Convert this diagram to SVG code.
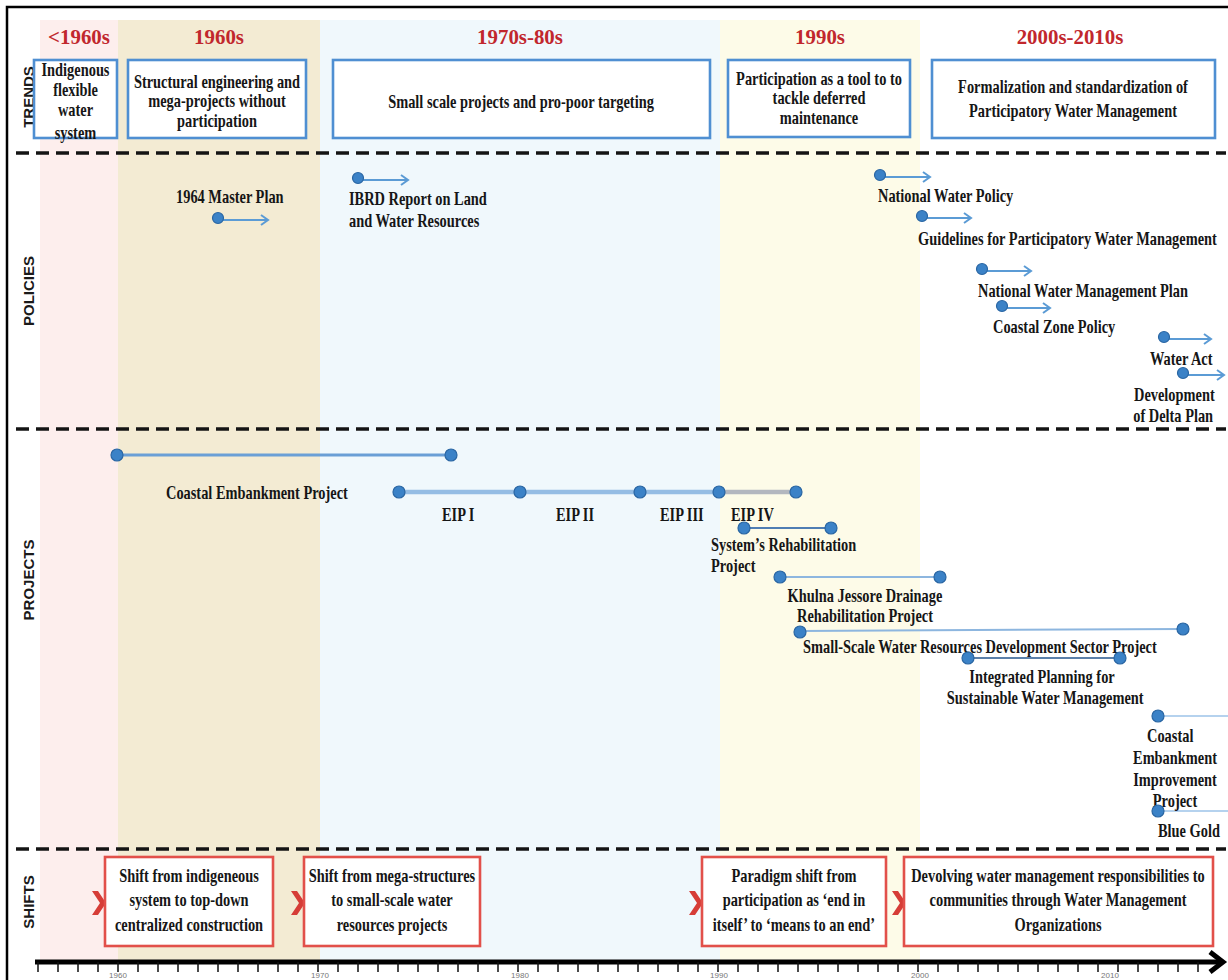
<svg xmlns="http://www.w3.org/2000/svg" width="1228" height="980" viewBox="0 0 1228 980">
  <defs>
    <style>
      .t { font-family: "Liberation Serif", "Times New Roman", serif; font-weight: bold; font-size: 18px; fill: #161616; }
      .m { text-anchor: middle; }
      .hd { font-family: "Liberation Serif", "Times New Roman", serif; font-weight: bold; font-size: 22px; fill: #c1272d; text-anchor: middle; }
      .lane { font-family: "Liberation Sans", Arial, sans-serif; font-weight: bold; font-size: 15px; fill: #1a1a1a; text-anchor: middle; }
      .yr { font-family: "Liberation Sans", Arial, sans-serif; font-size: 8px; fill: #777; text-anchor: middle; }
      .trend { fill: #fff; stroke: #4f8fd2; stroke-width: 2.6; }
      .shift { fill: #fff; stroke: #e2504a; stroke-width: 2.6; }
      .chev { fill: #d63d37; }
      .sep { stroke: #141414; stroke-width: 3.5; stroke-dasharray: 13 7; fill: none; }
      .pol { stroke: #5b9bd5; stroke-width: 2; marker-end: url(#ah); }
      .dot { fill: #3b82c7; stroke: #2a66a3; stroke-width: 1.2; }
      .span { stroke: #8db6df; stroke-width: 2; }
    </style>
    <marker id="ah" markerWidth="10" markerHeight="12" refX="8" refY="6" orient="auto" markerUnits="userSpaceOnUse">
      <path d="M1,1 L8,6 L1,11" fill="none" stroke="#5b9bd5" stroke-width="2"/>
    </marker>
  </defs>

  <rect width="1228" height="980" fill="#fff"/>

  <!-- era bands -->
  <g id="bands">
    <rect x="40" y="20" width="78" height="942" fill="#fdeeed"/>
    <rect x="118" y="20" width="202" height="942" fill="#f3ebd3"/>
    <rect x="320" y="20" width="400" height="942" fill="#f0f8fc"/>
    <rect x="720" y="20" width="200" height="942" fill="#fdfbe8"/>
  </g>

  <!-- outer frame -->
  <path d="M7 980 V7 H1228" fill="none" stroke="#000" stroke-width="2.5"/>

  <!-- era headings -->
  <g id="eras">
    <text class="hd" transform="translate(79 44) scale(.95 1)">&lt;1960s</text>
    <text class="hd" transform="translate(219 44) scale(.95 1)">1960s</text>
    <text class="hd" transform="translate(520 44) scale(.95 1)">1970s-80s</text>
    <text class="hd" transform="translate(820 44) scale(.95 1)">1990s</text>
    <text class="hd" transform="translate(1070 44) scale(.95 1)">2000s-2010s</text>
  </g>

  <!-- lane titles -->
  <g id="lanes">
    <text class="lane" transform="translate(34 97) rotate(-90)">TRENDS</text>
    <text class="lane" transform="translate(34 291) rotate(-90)">POLICIES</text>
    <text class="lane" transform="translate(34 580) rotate(-90)">PROJECTS</text>
    <text class="lane" transform="translate(34 902) rotate(-90)">SHIFTS</text>
  </g>

  <!-- lane separators -->
  <g id="separators">
    <line class="sep" x1="16" y1="153" x2="1226" y2="153"/>
    <line class="sep" x1="16" y1="429" x2="1226" y2="429"/>
    <line class="sep" x1="16" y1="849" x2="1226" y2="849"/>
  </g>

  <!-- trends -->
  <g id="trend-indigenous">
    <rect class="trend" x="34" y="60" width="83" height="78"/>
    <text class="t m" transform="translate(75.5 75.5) scale(.8 1)"><tspan x="0">Indigenous</tspan><tspan x="0" dy="21">flexible</tspan><tspan x="0" dy="20">water</tspan><tspan x="0" dy="23">system</tspan></text>
  </g>
  <g id="trend-structural">
    <rect class="trend" x="128" y="60" width="178" height="78"/>
    <text class="t m" transform="translate(217 87.5) scale(.8 1)"><tspan x="0">Structural engineering and</tspan><tspan x="0" dy="20">mega-projects without</tspan><tspan x="0" dy="20">participation</tspan></text>
  </g>
  <g id="trend-smallscale">
    <rect class="trend" x="333" y="60" width="377" height="78"/>
    <text class="t m" transform="translate(521 107.5) scale(.8 1)">Small scale projects and pro-poor targeting</text>
  </g>
  <g id="trend-participation">
    <rect class="trend" x="728" y="60" width="182" height="77"/>
    <text class="t m" transform="translate(819 84.5) scale(.8 1)"><tspan x="0">Participation as a tool to to</tspan><tspan x="0" dy="19.5">tackle deferred</tspan><tspan x="0" dy="20">maintenance</tspan></text>
  </g>
  <g id="trend-formalization">
    <rect class="trend" x="932" y="60" width="283" height="78"/>
    <text class="t m" transform="translate(1073 92.5) scale(.8 1)"><tspan x="0">Formalization and standardization of</tspan><tspan x="0" dy="25">Participatory Water Management</tspan></text>
  </g>

  <!-- connectors: policy arrows and project spans -->
  <g id="connectors">
    <line class="pol" x1="218" y1="220" x2="268" y2="220"/>
    <line class="pol" x1="358" y1="180" x2="408" y2="180"/>
    <line class="pol" x1="880" y1="177" x2="930" y2="177"/>
    <line class="pol" x1="922" y1="218" x2="971" y2="218"/>
    <line class="pol" x1="982" y1="271" x2="1031" y2="271"/>
    <line class="pol" x1="1002" y1="308" x2="1050" y2="308"/>
    <line class="pol" x1="1164" y1="339" x2="1211" y2="339"/>
    <line class="pol" x1="1183" y1="375" x2="1224" y2="375"/>

    <line x1="117" y1="455" x2="451" y2="455" stroke="#6a9fd6" stroke-width="3"/>
    <line x1="399" y1="492" x2="719" y2="492" stroke="#95bde4" stroke-width="4.5"/>
    <line x1="719" y1="492" x2="796" y2="492" stroke="#b3b7bf" stroke-width="4.5"/>
    <line x1="744" y1="528" x2="831" y2="528" stroke="#4f7db3" stroke-width="1.8"/>
    <line class="span" x1="780" y1="577" x2="940" y2="577"/>
    <line class="span" x1="800" y1="631" x2="1183" y2="629"/>
    <line x1="968" y1="658" x2="1120" y2="658" stroke="#5b80aa" stroke-width="2"/>
    <line x1="1157" y1="716" x2="1228" y2="716" stroke="#9cc3e8" stroke-width="1.5"/>
    <line x1="1157" y1="811" x2="1228" y2="811" stroke="#9cc3e8" stroke-width="1.5"/>
  </g>

  <!-- policies -->
  <g id="policy-master-plan">
    <circle class="dot" cx="218" cy="218" r="5.5"/>
    <text class="t" transform="translate(176 203) scale(.8 1)">1964 Master Plan</text>
  </g>
  <g id="policy-ibrd">
    <circle class="dot" cx="358" cy="178" r="5.5"/>
    <text class="t" transform="translate(349 205) scale(.8 1)"><tspan x="0">IBRD Report on Land</tspan><tspan x="0" dy="22">and Water Resources</tspan></text>
  </g>
  <g id="policy-nwp">
    <circle class="dot" cx="880" cy="175" r="5.5"/>
    <text class="t" transform="translate(878 202) scale(.8 1)">National Water Policy</text>
  </g>
  <g id="policy-guidelines">
    <circle class="dot" cx="922" cy="216" r="5.5"/>
    <text class="t" transform="translate(918 245) scale(.8 1)">Guidelines for Participatory Water Management</text>
  </g>
  <g id="policy-nwmp">
    <circle class="dot" cx="982" cy="269" r="5.5"/>
    <text class="t" transform="translate(978 297) scale(.8 1)">National Water Management Plan</text>
  </g>
  <g id="policy-coastal-zone">
    <circle class="dot" cx="1002" cy="306" r="5.5"/>
    <text class="t" transform="translate(993 333) scale(.8 1)">Coastal Zone Policy</text>
  </g>
  <g id="policy-water-act">
    <circle class="dot" cx="1164" cy="337" r="5.5"/>
    <text class="t" transform="translate(1150 365) scale(.8 1)">Water Act</text>
  </g>
  <g id="policy-delta-plan">
    <circle class="dot" cx="1183" cy="373" r="5.5"/>
    <text class="t" transform="translate(1134 401) scale(.8 1)"><tspan x="0">Development</tspan><tspan x="-1" dy="21">of Delta Plan</tspan></text>
  </g>

  <!-- projects -->
  <g id="project-cep">
    <circle class="dot" cx="117" cy="455" r="6"/>
    <circle class="dot" cx="451" cy="455" r="6"/>
    <text class="t" transform="translate(166 499) scale(.8 1)">Coastal Embankment Project</text>
  </g>
  <g id="project-eip">
    <circle class="dot" cx="399" cy="492" r="6"/>
    <circle class="dot" cx="520" cy="492" r="6"/>
    <circle class="dot" cx="640" cy="492" r="6"/>
    <circle class="dot" cx="719" cy="492" r="6"/>
    <circle class="dot" cx="796" cy="492" r="6"/>
    <text class="t" transform="translate(442 521) scale(.8 1)">EIP I</text>
    <text class="t" transform="translate(556 521) scale(.8 1)">EIP II</text>
    <text class="t" transform="translate(660 521) scale(.8 1)">EIP III</text>
    <text class="t" transform="translate(731 521) scale(.8 1)">EIP IV</text>
  </g>
  <g id="project-srp">
    <circle class="dot" cx="744" cy="528" r="6"/>
    <circle class="dot" cx="831" cy="528" r="6"/>
    <text class="t" transform="translate(711 551) scale(.8 1)"><tspan x="0">System’s Rehabilitation</tspan><tspan x="0" dy="21">Project</tspan></text>
  </g>
  <g id="project-khulna-jessore">
    <circle class="dot" cx="780" cy="577" r="6"/>
    <circle class="dot" cx="940" cy="577" r="6"/>
    <text class="t m" transform="translate(865 602) scale(.8 1)"><tspan x="0">Khulna Jessore Drainage</tspan><tspan x="0" dy="20">Rehabilitation Project</tspan></text>
  </g>
  <g id="project-small-scale">
    <circle class="dot" cx="800" cy="632" r="6"/>
    <circle class="dot" cx="1183" cy="629" r="6"/>
    <text class="t" transform="translate(803 653) scale(.8 1)">Small-Scale Water Resources Development Sector Project</text>
  </g>
  <g id="project-ipswm">
    <circle class="dot" cx="968" cy="658" r="6"/>
    <circle class="dot" cx="1120" cy="658" r="6"/>
    <text class="t m" transform="translate(1042 683) scale(.8 1)"><tspan x="0">Integrated Planning for</tspan><tspan x="4" dy="21">Sustainable Water Management</tspan></text>
  </g>
  <g id="project-ceip">
    <circle class="dot" cx="1158" cy="716" r="6"/>
    <text class="t m" transform="translate(1175 742) scale(.8 1)"><tspan x="-6">Coastal</tspan><tspan x="0" dy="22">Embankment</tspan><tspan x="0" dy="22">Improvement</tspan><tspan x="0" dy="21">Project</tspan></text>
  </g>
  <g id="project-blue-gold">
    <circle class="dot" cx="1158" cy="811" r="6"/>
    <text class="t" transform="translate(1158 837) scale(.8 1)">Blue Gold</text>
  </g>

  <!-- shifts -->
  <g id="shift-topdown">
    <path class="chev" d="M92 891 h6 l8 12 l-8 12 h-6 l8 -12 z"/>
    <rect class="shift" x="105" y="857" width="168" height="89"/>
    <text class="t m" transform="translate(189 882) scale(.8 1)"><tspan x="0">Shift from indigeneous</tspan><tspan x="0" dy="24">system to top-down</tspan><tspan x="0" dy="25">centralized construction</tspan></text>
  </g>
  <g id="shift-small-scale">
    <path class="chev" d="M291 891 h6 l8 12 l-8 12 h-6 l8 -12 z"/>
    <rect class="shift" x="304" y="857" width="176" height="89"/>
    <text class="t m" transform="translate(392 882) scale(.8 1)"><tspan x="0">Shift from mega-structures</tspan><tspan x="0" dy="24">to small-scale water</tspan><tspan x="0" dy="25">resources projects</tspan></text>
  </g>
  <g id="shift-paradigm">
    <path class="chev" d="M689 891 h6 l8 12 l-8 12 h-6 l8 -12 z"/>
    <rect class="shift" x="702" y="857" width="184" height="89"/>
    <text class="t m" transform="translate(794 882) scale(.8 1)"><tspan x="0">Paradigm shift from</tspan><tspan x="0" dy="24">participation as ‘end in</tspan><tspan x="0" dy="25">itself’ to ‘means to an end’</tspan></text>
  </g>
  <g id="shift-devolving">
    <path class="chev" d="M892 891 h6 l8 12 l-8 12 h-6 l8 -12 z"/>
    <rect class="shift" x="904" y="857" width="309" height="89"/>
    <text class="t m" transform="translate(1058 882) scale(.8 1)"><tspan x="0">Devolving water management responsibilities to</tspan><tspan x="0" dy="24">communities through Water Management</tspan><tspan x="0" dy="25">Organizations</tspan></text>
  </g>

  <!-- time axis -->
  <g id="axis">
    <line x1="35" y1="962" x2="1221" y2="962" stroke="#000" stroke-width="5"/>
    <path d="M1210 952 L1223 962 L1210 972" fill="none" stroke="#000" stroke-width="5"/>
    <path stroke="#111" stroke-width="1.5" d="M38 962v10M58 962v10M78 962v10M98 962v10M118 962v10M138 962v10M158 962v10M178 962v10M198 962v10M218 962v10M238 962v10M258 962v10M278 962v10M298 962v10M318 962v10M338 962v10M358 962v10M378 962v10M398 962v10M418 962v10M438 962v10M458 962v10M478 962v10M498 962v10M518 962v10M538 962v10M558 962v10M578 962v10M598 962v10M618 962v10M638 962v10M658 962v10M678 962v10M698 962v10M718 962v10M738 962v10M758 962v10M778 962v10M798 962v10M818 962v10M838 962v10M858 962v10M878 962v10M898 962v10M918 962v10M938 962v10M958 962v10M978 962v10M998 962v10M1018 962v10M1038 962v10M1058 962v10M1078 962v10M1098 962v10M1118 962v10M1138 962v10M1158 962v10M1178 962v10M1198 962v10"/>
    <text class="yr" x="118" y="978">1960</text>
    <text class="yr" x="320" y="978">1970</text>
    <text class="yr" x="520" y="978">1980</text>
    <text class="yr" x="719" y="978">1990</text>
    <text class="yr" x="920" y="978">2000</text>
    <text class="yr" x="1110" y="978">2010</text>
  </g>
</svg>
